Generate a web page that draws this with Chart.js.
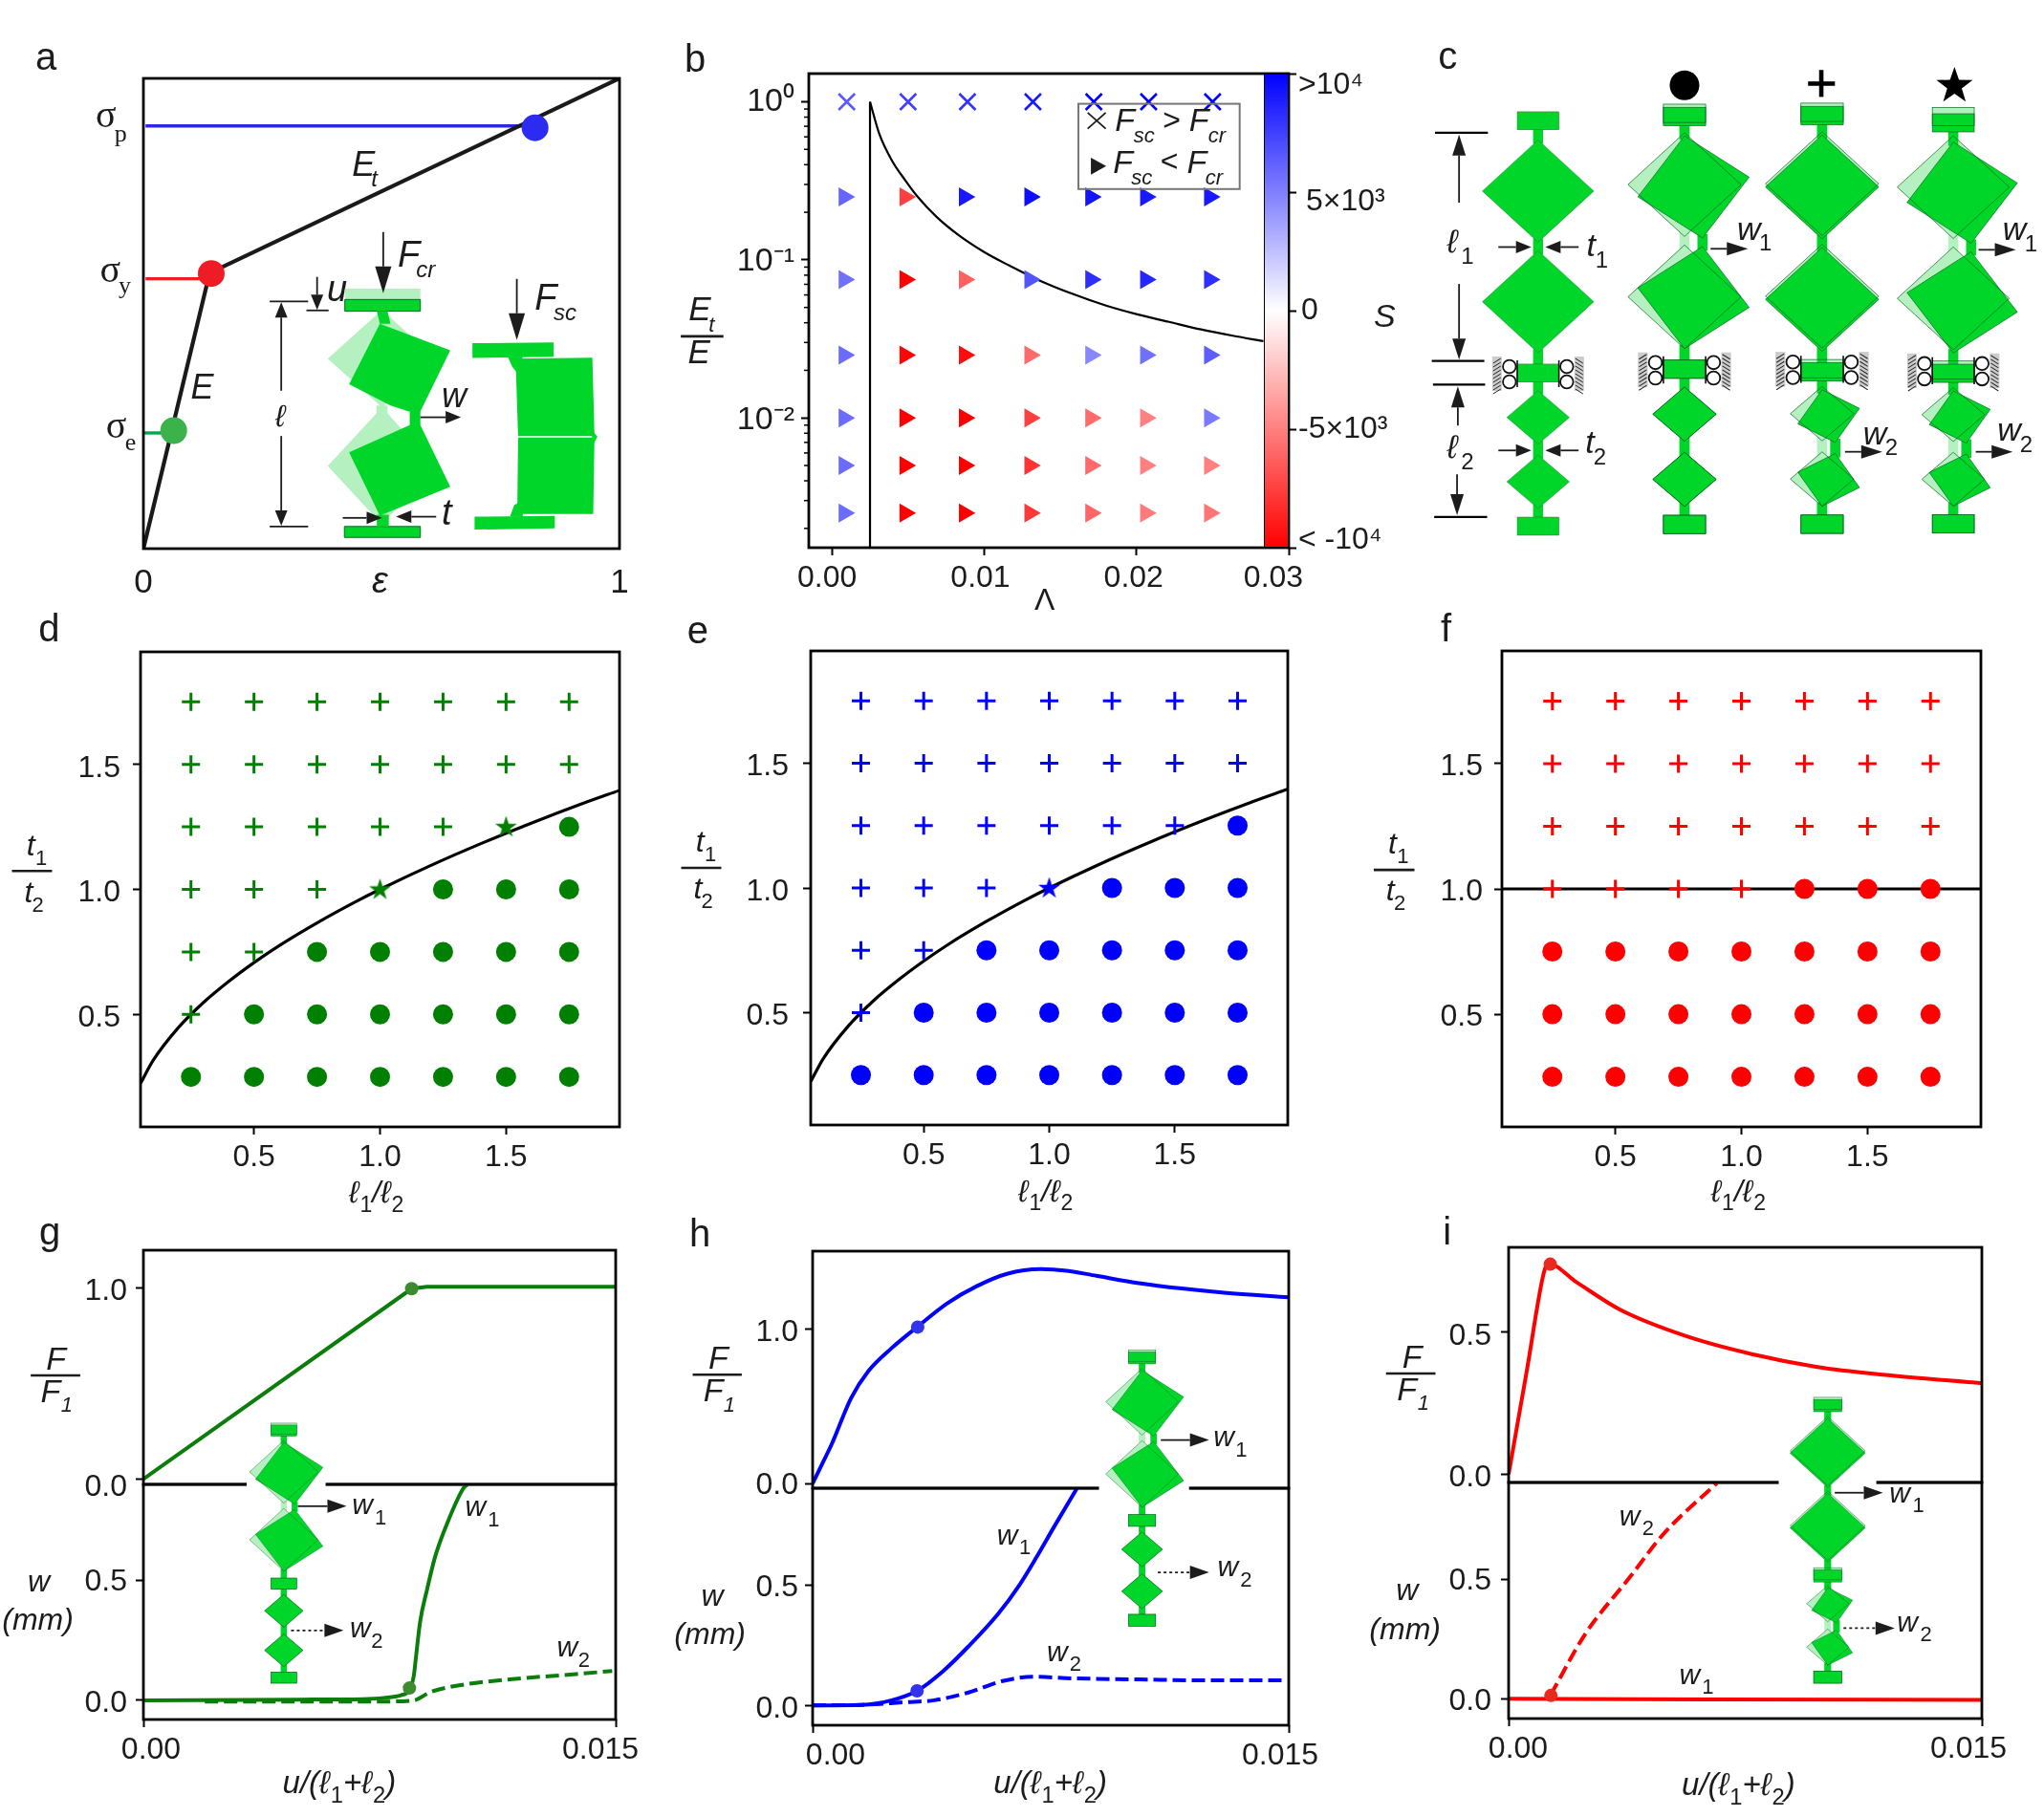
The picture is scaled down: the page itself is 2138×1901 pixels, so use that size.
<!DOCTYPE html>
<html lang="en">
<head>
<meta charset="UTF-8">
<title>Metamaterial buckling panels</title>
<style>
  html, body { margin: 0; padding: 0; background: #fff; }
  #page { position: relative; width: 2138px; height: 1901px; overflow: hidden; }
  #page canvas { position: absolute; }
  #art { position: absolute; left: 0; top: 0; z-index: 2; pointer-events: none; }
</style>
</head>
<body>
<div id="page">
  <svg id="art" width="2138" height="1901" viewBox="0 0 2138 1901"></svg>
</div>
<script src="https://cdn.jsdelivr.net/npm/chart.js"></script>
<script>
// panel a
const aCurveX = [0, 0.139, 1];
const aCurveY = [0, 0.586, 1];
const aBlueLineX = [0.0045, 0.8];
const aBlueLineY = [0.899, 0.899];
const aRedLineX = [0.0045, 0.12];
const aRedLineY = [0.574, 0.574];
const aGreenLineX = [0, 0.04];
const aGreenLineY = [0.246, 0.246];
const aPointsX = [0.8226, 0.1425, 0.0636];
const aPointsY = [0.895, 0.585, 0.251];

// panel b
const bCrossX = [0.00097, 0.005, 0.0089, 0.0132, 0.0172, 0.0208, 0.025];
const bCrossS = [6500, 7500, 8000, 9000, 10000, 10000, 10000];
const bTriX = [0.0008, 0.0048, 0.0087, 0.013, 0.017, 0.0206, 0.0248];
const bTriY = [0.25, 0.075, 0.025, 0.01, 0.005, 0.0025];
const bTriS = [
  [6000, -7500, 9000, 9500, 9200, 9000, 9000],
  [5600, -10000, -6200, 6700, 8200, 8500, 8200],
  [5800, -9800, -9500, -5800, 4700, 5600, 6300],
  [5800, -10000, -10000, -7500, -5800, -5000, 5200],
  [5800, -10000, -10000, -8000, -5800, -5000, -5000],
  [5800, -10000, -10000, -7800, -6000, -5200, -5400]
];
const bCurveX = [0.0025, 0.0031, 0.00394, 0.00478, 0.00561, 0.00687, 0.00833, 0.01, 0.01168, 0.01356, 0.01586, 0.01796, 0.02005, 0.02214, 0.02424, 0.02633, 0.02834];
const bCurveY = [1, 0.631, 0.4252, 0.322, 0.2518, 0.187, 0.143, 0.112, 0.0917, 0.0746, 0.0606, 0.0515, 0.0452, 0.0405, 0.0363, 0.0331, 0.0306];
const bVertX = [0.0025, 0.0025];
const bVertY = [0.0015, 1];
const bMajor = [0.01, 0.1, 1];
const bMajorLabels = ['10\u207B\u00B2', '10\u207B\u00B9', '10\u2070'];
const bMinor = [0.9, 0.8, 0.7, 0.6, 0.5, 0.4, 0.3, 0.2, 0.09, 0.08, 0.07, 0.06, 0.05, 0.04, 0.03, 0.02,
  0.009, 0.008, 0.007, 0.006, 0.005, 0.004, 0.003, 0.002];
const cbTicks = [-10000, -5000, 0, 5000, 10000];
const cbLabels = ['< -10\u2074', '-5\u00D710\u00B3', '0', '5\u00D710\u00B3', '>10\u2074'];

// panels d, e, f: o, + and * are the three buckling modes of panel c
const gridX = [0.25, 0.5, 0.75, 1.0, 1.25, 1.5, 1.75];
const gridY = [1.75, 1.5, 1.25, 1.0, 0.75, 0.5, 0.25];
const dKinds = ['+++++++', '+++++++', '+++++*o', '+++*ooo', '++ooooo', '+oooooo', 'ooooooo'];
const eKinds = ['+++++++', '+++++++', '++++++o', '+++*ooo', '++ooooo', '+oooooo', 'ooooooo'];
const fKinds = ['+++++++', '+++++++', '+++++++', '++++ooo', 'ooooooo', 'ooooooo', 'ooooooo'];
const boundX = [0.05, 0.1, 0.2, 0.3, 0.4, 0.5, 0.6, 0.75, 0.9, 1, 1.2, 1.4, 1.6, 1.8, 1.95];
const boundY = [0.224, 0.316, 0.447, 0.548, 0.632, 0.707, 0.775, 0.866, 0.949, 1, 1.095, 1.183, 1.265, 1.342, 1.396];
const flatX = [0.05, 1.95];
const flatY = [1, 1];
const ratioTicks = [0.5, 1.0, 1.5];
const ratioLabels = ['0.5', '1.0', '1.5'];

// panel g
const gForceX = [0, 0.00852, 0.009, 0.01252, 0.015];
const gForceY = [0, 0.996, 1.006, 1.006, 1.006];
const gW1X = [0, 0.00493, 0.00696, 0.00764, 0.00818, 0.00845, 0.00859, 0.00866, 0.00879, 0.009, 0.00927, 0.00967, 0.01015, 0.01028];
const gW1Y = [0, 0.003, 0.005, 0.01, 0.021, 0.043, 0.104, 0.184, 0.328, 0.456, 0.6, 0.744, 0.88, 0.898];
const gW2X = [0.00195, 0.00764, 0.00859, 0.00913, 0.01022, 0.01171, 0.01374, 0.01489];
const gW2Y = [-0.005, -0.005, 0, 0.035, 0.066, 0.088, 0.109, 0.122];

// panel h
const hForceX = [0, 0.0003, 0.0006, 0.00121, 0.00175, 0.00249, 0.00329, 0.00423, 0.00517, 0.00612, 0.00719, 0.008, 0.00894, 0.01028, 0.01163, 0.01297, 0.015];
const hForceY = [0, 0.127, 0.254, 0.552, 0.726, 0.876, 1.012, 1.164, 1.276, 1.356, 1.386, 1.376, 1.343, 1.296, 1.261, 1.234, 1.204];
const hW1X = [0, 0.00155, 0.00249, 0.00329, 0.0041, 0.00491, 0.00585, 0.00652, 0.00706, 0.00759, 0.00833];
const hW1Y = [0.003, 0.005, 0.024, 0.063, 0.143, 0.246, 0.381, 0.5, 0.615, 0.735, 0.898];
const hW2X = [0, 0.00155, 0.00289, 0.00383, 0.00491, 0.00598, 0.00692, 0.00827, 0.01028, 0.0123, 0.01485];
const hW2Y = [0.003, 0.005, 0.016, 0.024, 0.056, 0.103, 0.121, 0.114, 0.11, 0.106, 0.106];

// panel i
const iForceX = [0, 0.00058, 0.00112, 0.00125, 0.00216, 0.00355, 0.00563, 0.00771, 0.00979, 0.01186, 0.015];
const iForceY = [0, 0.366, 0.71, 0.74, 0.674, 0.577, 0.485, 0.422, 0.377, 0.35, 0.32];
const iW1X = [0, 0.00632, 0.015];
const iW1Y = [0.002, 0, -0.002];
const iW2X = [0.00133, 0.00244, 0.00383, 0.00493, 0.0066];
const iW2Y = [0.018, 0.274, 0.506, 0.691, 0.899];

const uTicks = [0, 0.015];
const uLabels = ['0.00', '0.015'];

const FONT = '"Liberation Sans", Arial, sans-serif';
const INK = '#1c1c1c';
Chart.defaults.font.family = FONT;
Chart.defaults.color = INK;

const zip = (xs, ys) => xs.map((x, i) => ({ x, y: ys[i] }));

// frame round the plot area, minor ticks, and small shifts of tick labels
const framePlugin = {
  id: 'frame',
  beforeDraw(chart, args, o) {
    for (const [id, list] of Object.entries(o.nudge || {})) {
      const items = chart.scales[id].getLabelItems();
      if (items._nudged) continue;
      items.forEach((it, i) => {
        if (!list[i]) return;
        it.options.translation[0] += list[i][0];
        it.options.translation[1] += list[i][1];
      });
      items._nudged = true;
    }
  },
  afterDatasetsDraw(chart, args, o) {
    const a = chart.chartArea, c = chart.ctx;
    c.save();
    c.strokeStyle = '#000';
    c.lineWidth = o.width || 2.8;
    c.strokeRect(a.left, a.top, a.right - a.left, a.bottom - a.top);
    if (o.minor) {
      c.lineWidth = 1.5;
      o.minor.forEach(v => {
        const y = chart.scales.y.getPixelForValue(v);
        c.beginPath(); c.moveTo(a.left - 5, y); c.lineTo(a.left, y); c.stroke();
      });
    }
    c.restore();
  }
};
Chart.register(framePlugin);

function axis(min, max, ticks, labels, size, pad, thick, extra) {
  return Object.assign({
    type: 'linear', min, max,
    border: { display: false },
    grid: { display: !!ticks, drawOnChartArea: false, drawTicks: true, tickLength: 8, tickWidth: 2, tickColor: '#000' },
    afterBuildTicks: s => { if (ticks) s.ticks = ticks.map(v => ({ value: v })); },
    afterFit: s => {
      if (s.isHorizontal()) s.height = thick; else s.width = thick;
      // the box is fixed by hand, so no room for overhanging labels
      s.paddingTop = s.paddingBottom = s.paddingLeft = s.paddingRight = 0;
    },
    ticks: {
      display: !!ticks, autoSkip: false, maxRotation: 0, minRotation: 0, padding: pad,
      font: { size }, color: INK,
      callback: (v, i) => labels ? labels[i] : ''
    }
  }, extra || {});
}

function makeChart(box, mL, mB, mT, mR, x, y, datasets, frame, type) {
  const cv = document.createElement('canvas');
  const w = box.r - box.l + mL + mR, h = box.b - box.t + mT + mB;
  cv.width = w; cv.height = h;
  cv.style.left = (box.l - mL) + 'px';
  cv.style.top = (box.t - mT) + 'px';
  cv.style.width = w + 'px';
  cv.style.height = h + 'px';
  document.getElementById('page').appendChild(cv);
  return new Chart(cv, {
    type: type || 'scatter',
    data: { datasets },
    options: {
      responsive: false, animation: false, devicePixelRatio: 1,
      layout: { autoPadding: false, padding: { top: mT, right: mR, left: 0, bottom: 0 } },
      scales: { x, y },
      plugins: { legend: { display: false }, tooltip: { enabled: false }, frame: frame || {} }
    }
  });
}

function lineSet(xs, ys, color, width, extra) {
  return Object.assign({
    data: zip(xs, ys), showLine: true, borderColor: color, borderWidth: width,
    pointRadius: 0, fill: false, cubicInterpolationMode: 'monotone', borderCapStyle: 'butt'
  }, extra || {});
}
function dots(xs, ys, color, r) {
  return { data: zip(xs, ys), pointRadius: r, pointBackgroundColor: color, pointBorderWidth: 0, showLine: false };
}
const sharp = { cubicInterpolationMode: 'default', tension: 0 };
const shiftY = list => list.map(dy => [0, dy]);

// ---------- panel a
makeChart({ l: 150, r: 648, t: 82, b: 574 }, 40, 50, 10, 30,
  axis(0, 1, [0, 1], ['0', '1'], 35, 7, 50, { grid: { display: false } }),
  axis(0, 1, null, null, 10, 0, 40),
  [
    { data: zip(aPointsX, aPointsY), pointRadius: 14, pointBorderWidth: 0, showLine: false,
      pointBackgroundColor: ['#2b2bf2', '#ee1c25', '#3cb34a'] },
    lineSet(aCurveX, aCurveY, '#1a1a1a', 4.2, sharp),
    lineSet(aBlueLineX, aBlueLineY, '#2a2ae6', 3.4, sharp),
    lineSet(aRedLineX, aRedLineY, '#ee1c25', 3.4, sharp),
    lineSet(aGreenLineX, aGreenLineY, '#00a651', 3.4, sharp)
  ]);

// ---------- panel b
const heat = s => {
  const t = Math.min(Math.abs(s) / 10000, 1), v = Math.round(255 * (1 - t));
  return s > 0 ? `rgb(${v},${v},255)` : `rgb(255,${v},${v})`;
};
const triPts = [], triCols = [];
bTriY.forEach((yv, r) => bTriX.forEach((xv, c) => {
  triPts.push({ x: xv, y: yv });
  triCols.push(heat(bTriS[r][c]));
}));
const bY = axis(0.00151, 1.508, bMajor, bMajorLabels, 34, 7, 120, { type: 'logarithmic' });
makeChart({ l: 846, r: 1348, t: 77, b: 573 }, 120, 50, 10, 40,
  axis(-0.00152, 0.03, [0, 0.01, 0.02, 0.03], ['0.00', '0.01', '0.02', '0.03'], 32, 5, 50),
  bY,
  [
    { data: bCrossX.map(x => ({ x, y: 1 })), pointStyle: 'crossRot', pointRadius: 12, pointBorderWidth: 2.6,
      pointBorderColor: bCrossS.map(heat), showLine: false },
    { data: triPts, pointStyle: 'triangle', rotation: 90, pointRadius: 11.5, pointBorderWidth: 0,
      pointBackgroundColor: triCols, showLine: false },
    lineSet(bCurveX, bCurveY, '#000', 2.2),
    lineSet(bVertX, bVertY, '#000', 2.2, sharp)
  ],
  { minor: bMinor, nudge: { x: [[-5, 0], [-4, 0], [-3, 0], [-16, 0]], y: shiftY([2, 2, 0]) } });

// colour bar on top of the right end of b
const cbCanvas = document.createElement('canvas');
cbCanvas.width = 136; cbCanvas.height = 536;
cbCanvas.style.left = '1322px'; cbCanvas.style.top = '57px';
cbCanvas.style.width = '136px'; cbCanvas.style.height = '536px';
document.getElementById('page').appendChild(cbCanvas);
new Chart(cbCanvas, {
  type: 'bar',
  data: { labels: ['S'], datasets: [{
    data: [[-10000, 10000]], barPercentage: 1, categoryPercentage: 1,
    backgroundColor: c => {
      const a = c.chart.chartArea;
      if (!a) return '#fff';
      const g = c.chart.ctx.createLinearGradient(0, a.top, 0, a.bottom);
      g.addColorStop(0, '#0000ff');
      g.addColorStop(0.5, '#ffffff');
      g.addColorStop(1, '#ff0000');
      return g;
    }
  }] },
  options: {
    responsive: false, animation: false, devicePixelRatio: 1,
    layout: { autoPadding: false, padding: { top: 20, bottom: 20, left: 0, right: 0 } },
    scales: {
      x: { display: false },
      y: axis(-10000, 10000, cbTicks, cbLabels, 32, 2, 110, { position: 'right' })
    },
    plugins: { legend: { display: false }, tooltip: { enabled: false },
      frame: { width: 2, nudge: { y: [[0, -8], [0, 0], [3, 0], [8, 10], [0, 12]] } } }
  }
});

// ---------- panels d, e, f
function starImage(color) {
  const cv = document.createElement('canvas');
  cv.width = 24; cv.height = 24;
  const c = cv.getContext('2d');
  c.fillStyle = color;
  c.beginPath();
  for (let i = 0; i < 10; i++) {
    const r = i % 2 ? 4.6 : 12, a = -Math.PI / 2 + i * Math.PI / 5;
    c[i ? 'lineTo' : 'moveTo'](12 + r * Math.cos(a), 12.5 + r * Math.sin(a));
  }
  c.closePath(); c.fill();
  return cv;
}
function gridPanel(box, color, kinds, lineX, lineY, pad, dy) {
  const pick = k => {
    const out = [];
    kinds.forEach((row, r) => [...row].forEach((ch, c) => { if (ch === k) out.push({ x: gridX[c], y: gridY[r] }); }));
    return out;
  };
  makeChart(box, 110, 50, 10, 10,
    axis(0.05, 1.95, ratioTicks, ratioLabels, 32, 5, 50),
    axis(0.05, 1.95, ratioTicks, ratioLabels, 32, pad, 110),
    [
      { data: pick('*'), pointStyle: starImage(color), showLine: false },
      { data: pick('o'), pointRadius: 10.5, pointBackgroundColor: color, pointBorderWidth: 0, showLine: false },
      { data: pick('+'), pointStyle: 'cross', pointRadius: 9.5, pointBorderColor: color, pointBorderWidth: 3, showLine: false },
      lineSet(lineX, lineY, '#000', 3.2)
    ],
    { nudge: { y: shiftY([dy, dy, dy]) } });
}
gridPanel({ l: 147, r: 648, t: 682, b: 1179 }, '#008000', dKinds, boundX, boundY, 13, 4);
gridPanel({ l: 848, r: 1347, t: 681, b: 1177 }, '#0000ff', eKinds, boundX, boundY, 15, 4);
gridPanel({ l: 1571, r: 2072, t: 681, b: 1179 }, '#ff0000', fKinds, flatX, flatY, 12, 3);

// ---------- panels g, h, i: force on top, deflection below
function splitPanel(o) {
  makeChart({ l: o.l, r: o.r, t: o.t, b: o.m }, 110, 24, 10, 30,
    axis(0, 0.015, null, null, 10, 0, 24),
    axis(o.upMin, o.upMax, o.upTicks, o.upLabels, 32, o.yPad, 110),
    o.upper, { nudge: { y: shiftY(o.upDy) } });
  makeChart({ l: o.l, r: o.r, t: o.m, b: o.b }, 110, 60, 4, 30,
    axis(0, 0.015, uTicks, uLabels, 32, o.xPad, 60),
    axis(o.lowMin, o.lowMax, [0, 0.5], ['0.0', '0.5'], 32, o.yPad, 110),
    o.lower, { nudge: { x: o.nudge, y: shiftY(o.lowDy) } });
}
const GREEN = '#0a7d0a', BLUE = '#0000ff', RED = '#ff0000';
const dash = { borderDash: [14, 6] };
const THICK = 4;

splitPanel({
  l: 150, r: 644, t: 1308, m: 1553, b: 1799, xPad: 5, yPad: 9, nudge: [[8, 0], [-16, 0]],
  upDy: [9, 4], lowDy: [3, 2],
  upMin: -0.028, upMax: 1.1975, upTicks: [0, 1], upLabels: ['0.0', '1.0'],
  lowMin: -0.08, lowMax: 0.899,
  upper: [dots([0.00852], [0.996], '#3d8b2f', 7), lineSet(gForceX, gForceY, GREEN, THICK, sharp)],
  lower: [dots([0.00845], [0.051], '#3d8b2f', 7), lineSet(gW1X, gW1Y, GREEN, THICK), lineSet(gW2X, gW2Y, GREEN, THICK, dash)]
});
splitPanel({
  l: 850, r: 1348, t: 1309, m: 1557, b: 1805, xPad: 5, yPad: 7, nudge: [[24, 0], [-9, 0]],
  upDy: [2, 4], lowDy: [3, 3],
  upMin: -0.03, upMax: 1.5025, upTicks: [0, 1], upLabels: ['0.0', '1.0'],
  lowMin: -0.079, lowMax: 0.898,
  upper: [dots([0.00331], [1.012], '#3333ee', 7), lineSet(hForceX, hForceY, BLUE, THICK)],
  lower: [dots([0.00329], [0.063], '#3333ee', 7), lineSet(hW1X, hW1Y, BLUE, THICK), lineSet(hW2X, hW2Y, BLUE, THICK, dash)]
});
splitPanel({
  l: 1578, r: 2073, t: 1305, m: 1551, b: 1798, xPad: 5, yPad: 10, nudge: [[10, 0], [-14, 0]],
  upDy: [4, 5], lowDy: [2, 2],
  upMin: -0.0285, upMax: 0.797, upTicks: [0, 0.5], upLabels: ['0.0', '0.5'],
  lowMin: -0.08, lowMax: 0.902,
  upper: [dots([0.00132], [0.738], '#e82a1f', 7), lineSet(iForceX, iForceY, RED, THICK)],
  lower: [dots([0.00134], [0.016], '#e82a1f', 7), lineSet(iW1X, iW1Y, RED, THICK), lineSet(iW2X, iW2Y, RED, THICK, dash)]
});

// ---------- overlay: labels and the drawn structures
const GHOST = '#b5f0c0', SOLID = '#00d62a';
const out = [];
const zA = (x, y) => [x * .4464, y * .408];
const zB = (x, y) => [700 + x * .4847, y * .4209];
const zC = (x, y) => [1480 + x * .4196, 40 + y * .357];
const zD = (x, y) => [x * .4464, 640 + y * .408];
const zE = (x, y) => [700 + x * .4464, 640 + y * .408];
const zF = (x, y) => [1420 + x * .4579, 640 + y * .408];
const zG = (x, y) => [x * .4464, 1270 + y * .4024];
const zH = (x, y) => [700 + x * .4464, 1270 + y * .4024];
const zI = (x, y) => [1420 + x * .4579, 1270 + y * .4024];

function tx(p, str, size, o = {}) {
  out.push(`<text x="${p[0]}" y="${p[1]}" font-size="${size}" font-family='${o.font || FONT}' fill="${INK}"` +
    ` font-style="${o.upright ? 'normal' : 'italic'}" text-anchor="${o.anchor || 'start'}">${str}</text>`);
}
const up = { upright: true };
function rich(p, str, size) {
  const bits = str.split(/_(\d)/);
  const d = size * 0.3;
  let s = '';
  bits.forEach((b, i) => {
    if (i % 2) s += `<tspan dy="${d}" font-size="${size * .72}" font-style="normal" dx="1">${b}</tspan>`;
    else s += `<tspan dy="${i ? -d : 0}">${b}</tspan>`;
  });
  tx(p, s, size, { anchor: 'middle' });
}
function line(a, b, w = 2, col = '#1c1c1c', extra = '') {
  out.push(`<line x1="${a[0]}" y1="${a[1]}" x2="${b[0]}" y2="${b[1]}" stroke="${col}" stroke-width="${w}" ${extra}/>`);
}
function arrow(a, b, len = 16, half = 6.5, extra = '') {
  const dx = b[0] - a[0], dy = b[1] - a[1], n = Math.hypot(dx, dy), ux = dx / n, uy = dy / n;
  const bx = b[0] - ux * len, by = b[1] - uy * len;
  line(a, [bx, by], 1.8, '#1c1c1c', extra);
  out.push(`<polygon points="${b[0]},${b[1]} ${bx - uy * half},${by + ux * half} ${bx + uy * half},${by - ux * half}" fill="#1c1c1c"/>`);
}
function poly(map, pts, fill, extra = '') {
  out.push(`<polygon points="${pts.map(p => map(p[0], p[1]).join(',')).join(' ')}" fill="${fill}" ${extra}/>`);
}
function diamond(cx, cy, hw, h, deg) {
  const a = deg * Math.PI / 180, c = Math.cos(a), s = Math.sin(a);
  return [[0, -h], [hw, 0], [0, h], [-hw, 0]]
    .map(([x, y]) => `${cx + x * c - y * s},${cy + x * s + y * c}`).join(' ');
}

// one full column, in the coordinates of the undeformed column of panel c
function columnShapes(tiltU, tiltL, look) {
  const cu = Math.cos(tiltU * Math.PI / 180), su = Math.sin(tiltU * Math.PI / 180);
  const cl = Math.cos(tiltL * Math.PI / 180), sl = Math.sin(tiltL * Math.PI / 180);
  const uh = 53.5, uw = 58.3, lh = 28, lw = 32.7;
  const d4y = 532 - lh * cl, jl = 532 - 2 * lh * cl, d3b = jl - 11.3, d3y = d3b - lh * cl, d3t = d3b - 2 * lh * cl;
  const dropL = d3t - 409.5;
  const ub = 370 + dropL, d2y = ub - uh * cu, ju = ub - 2 * uh * cu, d1b = ju - 8.8, d1y = d1b - uh * cu, d1t = d1b - 2 * uh * cu;
  const dropT = d1t - 147;
  const xu = uh * su, xl = lh * sl;
  const neck = (x1, y1, x2, y2) => look.fill === 'none' ? '' :
    `<line x1="${x1}" y1="${y1}" x2="${x2}" y2="${y2}" stroke="${look.fill}" stroke-width="10.5"/>`;
  const sty = `fill="${look.fill}" stroke="${look.edge}" stroke-width="${look.ew}"`;
  return [
    neck(0, 130 + dropT, 0, d1t + 4), neck(2 * xu, d1b - 4, 2 * xu, ju + 4), neck(0, ub - 4, 0, 395 + dropL),
    neck(0, 390 + dropL, 0, d3t + 4), neck(2 * xl, d3b - 4, 2 * xl, jl + 4), neck(0, 528, 0, 545),
    `<rect x="-21.8" y="${117.5 + dropT}" width="43.6" height="18.9" ${sty}/>`,
    `<rect x="-21.8" y="${381.7 + dropL}" width="43.6" height="18.9" ${sty}/>`,
    `<rect x="-21.8" y="541" width="43.6" height="19" ${sty}/>`,
    `<polygon points="${diamond(xu, d1y, uw, uh, -tiltU)}" ${sty}/>`,
    `<polygon points="${diamond(xu, d2y, uw, uh, tiltU)}" ${sty}/>`,
    `<polygon points="${diamond(xl, d3y, lw, lh, -tiltL)}" ${sty}/>`,
    `<polygon points="${diamond(xl, d4y, lw, lh, tiltL)}" ${sty}/>`
  ].join('');
}
function rollers() {
  let s = '';
  [-1, 1].forEach(k => {
    s += `<g transform="scale(${k},1)">`;
    s += `<rect x="38" y="373" width="10" height="36" fill="#ccc"/>`;
    for (let y = 375; y < 408; y += 4) s += `<line x1="39" y1="${y}" x2="47" y2="${y + 5}" stroke="#222" stroke-width="1"/>`;
    s += `<line x1="21.8" y1="377" x2="21.8" y2="405" stroke="#111" stroke-width="1.6"/>`;
    s += `<circle cx="30" cy="383.5" r="6.8" fill="#fff" stroke="#111" stroke-width="1.8"/>`;
    s += `<circle cx="30" cy="399.5" r="6.8" fill="#fff" stroke="#111" stroke-width="1.8"/>`;
    s += `</g>`;
  });
  return s;
}
function column(cx, top, scale, tiltU, tiltL, ghost, withRollers) {
  let s = `<g transform="translate(${cx},${top}) scale(${scale}) translate(0,-117.5)">`;
  if (ghost) s += columnShapes(0, 0, { fill: GHOST, edge: GHOST, ew: 0 });
  s += columnShapes(tiltU, tiltL, { fill: SOLID, edge: '#0a6a20', ew: ghost ? 0.7 : 0.4 });
  if (ghost) s += columnShapes(0, 0, { fill: 'none', edge: '#0a6a20', ew: 0.7 });
  if (withRollers) s += rollers();
  out.push(s + '</g>');
}

// letters
tx(zA(83, 178), 'a', 40, up);
tx(zB(33, 178), 'b', 40, up);
tx(zC(58, 90), 'c', 40, up);
tx(zD(90, 75), 'd', 40, up);
tx(zE(42, 82), 'e', 40, up);
tx(zF(190, 75), 'f', 40, up);
tx(zG(92, 80), 'g', 40, up);
tx(zH(47, 85), 'h', 40, up);
tx(zI(195, 80), 'i', 40, up);

// panel a
const serif = '"Liberation Serif", "Times New Roman", serif';
tx(zA(224, 325), '\u03C3', 40, { upright: true, font: serif });
tx(zA(268, 362), 'p', 26, { upright: true, font: serif });
tx(zA(234, 722), '\u03C3', 40, { upright: true, font: serif });
tx(zA(278, 752), 'y', 26, { upright: true, font: serif });
tx(zA(248, 1122), '\u03C3', 40, { upright: true, font: serif });
tx(zA(293, 1155), 'e', 26, { upright: true, font: serif });
tx(zA(825, 452), 'E', 36); tx(zA(870, 478), 't', 24);
tx(zA(447, 1022), 'E', 36);
tx(zA(932, 683), 'F', 38); tx(zA(975, 710), 'cr', 24);
tx(zA(766, 772), 'u', 38);
tx(zA(1035, 1045), 'w', 36);
tx(zA(645, 1092), '\u2113', 32);
tx(zA(1035, 1345), 't', 38);
tx(zA(1253, 795), 'F', 38); tx(zA(1297, 822), 'sc', 24);
tx(zA(890, 1520), '\u03B5', 38, { anchor: 'middle' });
// unit under load
poly(zA, [[808, 740], [985, 740], [985, 798], [808, 798]], GHOST);
poly(zA, [[895, 795], [1021, 920], [895, 1045], [768, 920]], GHOST);
poly(zA, [[895, 1045], [1021, 1195], [895, 1345], [768, 1195]], GHOST);
poly(zA, [[882, 1040], [908, 1040], [908, 1100], [882, 1100]], GHOST);
poly(zA, [[808, 768], [985, 768], [985, 798], [808, 798]], SOLID, 'stroke="#0a6a20" stroke-width="1"');
poly(zA, [[807, 1350], [985, 1350], [985, 1378], [807, 1378]], SOLID, 'stroke="#0a6a20" stroke-width="1"');
poly(zA, [[883, 798], [908, 798], [915, 830], [890, 830]], SOLID);
poly(zA, [[883, 1350], [911, 1350], [911, 1320], [883, 1320]], SOLID);
poly(zA, [[890, 830], [1055, 898], [985, 1055], [958, 1055], [915, 1040], [818, 985]], SOLID);
poly(zA, [[960, 1090], [985, 1090], [1055, 1248], [890, 1322], [818, 1160]], SOLID);
poly(zA, [[960, 1050], [985, 1050], [985, 1095], [960, 1095]], SOLID);
line(zA(632, 773), zA(722, 773), 1.8); line(zA(718, 796), zA(770, 796), 1.8); line(zA(632, 1350), zA(722, 1350), 1.8);
arrow(zA(659, 1002), zA(659, 775));
arrow(zA(659, 1118), zA(659, 1348));
arrow(zA(743, 710), zA(743, 795));
arrow(zA(898, 595), zA(898, 752), 28, 8.5);
arrow(zA(1211, 715), zA(1211, 872), 28, 8.5);
arrow(zA(803, 1328), zA(895, 1328));
arrow(zA(1022, 1325), zA(928, 1325));
arrow(zA(985, 1070), zA(1080, 1070));
// squashed unit
poly(zA, [[1107, 880], [1297, 878], [1297, 915], [1107, 918]], SOLID);
poly(zA, [[1112, 1325], [1300, 1323], [1300, 1355], [1112, 1358]], SOLID);
poly(zA, [[1208, 920], [1388, 917], [1393, 1118], [1214, 1118]], SOLID);
poly(zA, [[1214, 1122], [1393, 1122], [1390, 1318], [1212, 1318]], SOLID);
poly(zA, [[1190, 915], [1225, 915], [1215, 960], [1200, 940]], SOLID);
poly(zA, [[1195, 1325], [1225, 1325], [1225, 1285], [1205, 1295]], SOLID);
poly(zA, [[1385, 1100], [1400, 1120], [1390, 1140]], SOLID);

// panel b
tx(zB(42, 797), 'E', 35); tx(zB(85, 825), 't', 22);
line(zB(25, 836), zB(117, 836), 2.6);
tx(zB(40, 903), 'E', 35);
tx(zB(810, 1515), '\u039B', 32, { anchor: 'middle', upright: true });
tx([1437, 342], 'S', 34);
out.push(`<rect x="${zB(883, 0)[0]}" y="${zB(0, 258)[1]}" width="168.7" height="89.2" fill="none" stroke="#777" stroke-width="2"/>`);
line(zB(903, 280), zB(942, 320), 1.8); line(zB(942, 280), zB(903, 320), 1.8);
poly(zB, [[910, 392], [943, 413], [910, 434]], '#1c1c1c');
tx(zB(962, 325), 'F', 34); tx(zB(1002, 355), 'sc', 22);
tx(zB(1065, 322), '&gt;', 32, up);
tx(zB(1122, 325), 'F', 34); tx(zB(1163, 355), 'cr', 22);
tx(zB(958, 430), 'F', 34); tx(zB(997, 458), 'sc', 22);
tx(zB(1060, 425), '&lt;', 32, up);
tx(zB(1117, 430), 'F', 34); tx(zB(1157, 458), 'cr', 22);

// panel c
column(zC(307, 0)[0], 117.5, 1, 0, 0, false, true);
column(zC(672, 0)[0], 109.6, 1.014, 10, 0, true, true);
column(zC(1015, 0)[0], 108.5, 1.016, 0, 14, true, true);
column(zC(1342, 0)[0], 113, 1.005, 10, 14, true, true);
out.push(`<ellipse cx="${zC(672, 0)[0]}" cy="${zC(0, 138)[1]}" rx="15.5" ry="15.5" fill="#000"/>`);
line(zC(980, 133), zC(1047, 133), 4.6, '#000'); line(zC(1013, 93), zC(1013, 172), 4.6, '#000');
{
  const [sx, sy] = zC(1345, 140), pts = [];
  for (let i = 0; i < 10; i++) {
    const r = i % 2 ? 8 : 20, a = -Math.PI / 2 + i * Math.PI / 5;
    pts.push(`${sx + r * Math.cos(a)},${sy + r * Math.sin(a)}`);
  }
  out.push(`<polygon points="${pts.join(' ')}" fill="#000"/>`);
}
line(zC(50, 277), zC(182, 277), 2.2, '#000'); line(zC(42, 946), zC(173, 946), 2.2, '#000');
line(zC(45, 1015), zC(175, 1015), 2.2, '#000'); line(zC(48, 1403), zC(180, 1403), 2.2, '#000');
arrow(zC(110, 482), zC(110, 282), 22, 7);
arrow(zC(110, 720), zC(110, 942), 22, 7);
arrow(zC(107, 1135), zC(107, 1020), 22, 7);
arrow(zC(105, 1278), zC(105, 1398), 22, 7);
arrow(zC(208, 612), zC(290, 612)); arrow(zC(408, 612), zC(325, 612));
arrow(zC(208, 1208), zC(290, 1208)); arrow(zC(408, 1208), zC(325, 1208));
tx(zC(80, 628), '\u2113', 34); tx(zC(115, 660), '1', 24, up);
tx(zC(80, 1230), '\u2113', 34); tx(zC(115, 1262), '2', 24, up);
tx(zC(428, 640), 't', 34); tx(zC(450, 672), '1', 24, up);
tx(zC(425, 1215), 't', 34); tx(zC(445, 1248), '2', 24, up);
arrow(zC(737, 617), zC(830, 617), 22, 7); tx(zC(803, 592), 'w', 34); tx(zC(858, 622), '1', 24, up);
arrow(zC(1405, 620), zC(1498, 620), 22, 7); tx(zC(1465, 592), 'w', 34); tx(zC(1520, 625), '1', 24, up);
arrow(zC(1072, 1212), zC(1165, 1212), 22, 7); tx(zC(1117, 1190), 'w', 34); tx(zC(1172, 1220), '2', 24, up);
arrow(zC(1398, 1212), zC(1490, 1212), 22, 7); tx(zC(1452, 1180), 'w', 34); tx(zC(1508, 1212), '2', 24, up);

// axis titles of d, e, f
[[zD, 882, 1515], [zE, 882, 1512], [zF, 870, 1512]].forEach(([z, x, y]) => rich(z(x, y), '\u2113_1/\u2113_2', 32));
[[zD, 62, 625, 83, 650, 28, 122, 665, 57, 745, 75, 770],
 [zE, 62, 615, 83, 640, 28, 122, 657, 57, 735, 75, 760],
 [zF, 70, 620, 90, 645, 37, 130, 662, 65, 740, 83, 765]].forEach(([z, a, b, c, d, e, f, g, h, i, j, k]) => {
  tx(z(a, b), 't', 32); tx(z(c, d), '1', 22, up);
  line(z(e, g), z(f, g), 2.6);
  tx(z(h, i), 't', 32); tx(z(j, k), '2', 22, up);
});

// g, h, i titles and insets
function forceLabels(z, p) {
  tx(z(p[0], p[1]), 'F', 34);
  line(z(p[2], p[3]), z(p[4], p[3]), 2.6);
  tx(z(p[5], p[6]), 'F', 34);
  tx(z(p[7], p[8]), '1', 22);
  tx(z(p[9], p[10]), 'w', 32);
  tx(z(p[11], p[12]), '(mm)', 32);
}
forceLabels(zG, [108, 405, 72, 420, 188, 95, 490, 143, 515, 65, 982, 5, 1082]);
forceLabels(zH, [92, 403, 55, 418, 170, 80, 488, 127, 515, 75, 1018, 12, 1118]);
forceLabels(zI, [102, 400, 65, 415, 178, 90, 485, 137, 510, 88, 1003, 27, 1105]);
rich(zG(795, 1505), 'u/(\u2113_1+\u2113_2)', 33);
rich(zH(893, 1505), 'u/(\u2113_1+\u2113_2)', 33);
rich(zI(870, 1510), 'u/(\u2113_1+\u2113_2)', 33);

const gap = (a, b) => out.push(`<rect x="${a[0]}" y="${a[1] - 4}" width="${b[0] - a[0]}" height="8" fill="#fff"/>`);
const wl = (z, x, y, sx, sy, n) => { tx(z(x, y), 'w', 30); tx(z(sx, sy), n, 22, up); };
const dotted = 'stroke-dasharray="3 3"';

gap(zG(578, 704), zG(763, 704));
column(zG(665, 0)[0], zG(0, 545)[1], 0.614, 10, 0, true, false);
arrow(zG(698, 760), zG(812, 760), 20, 7); wl(zG, 825, 780, 878, 808, '1');
arrow(zG(682, 1083), zG(805, 1083), 20, 7, dotted); wl(zG, 820, 1100, 870, 1127, '2');
wl(zG, 1090, 785, 1143, 813, '1');
wl(zG, 1305, 1150, 1355, 1178, '2');

gap(zH(1007, 714), zH(1218, 714));
column(zH(1108, 0)[0], zH(0, 355)[1], 0.652, 10, 0, true, false);
arrow(zH(1152, 588), zH(1265, 588), 20, 7); wl(zH, 1275, 605, 1327, 632, '1');
arrow(zH(1145, 932), zH(1265, 932), 20, 7, dotted); wl(zH, 1285, 942, 1338, 968, '2');
wl(zH, 768, 860, 820, 885, '1');
wl(zH, 885, 1162, 938, 1187, '2');

gap(zI(962, 698), zI(1185, 698));
column(zI(1074, 0)[0], zI(0, 478)[1], 0.675, 0, 14, true, false);
arrow(zI(1090, 725), zI(1200, 725), 20, 7); wl(zI, 1215, 750, 1268, 775, '1');
arrow(zI(1110, 1077), zI(1227, 1077), 20, 7, dotted); wl(zI, 1232, 1085, 1285, 1112, '2');
wl(zI, 598, 810, 650, 835, '2');
wl(zI, 735, 1222, 787, 1247, '1');

document.getElementById('art').innerHTML = out.join('');
</script>
</body>
</html>
